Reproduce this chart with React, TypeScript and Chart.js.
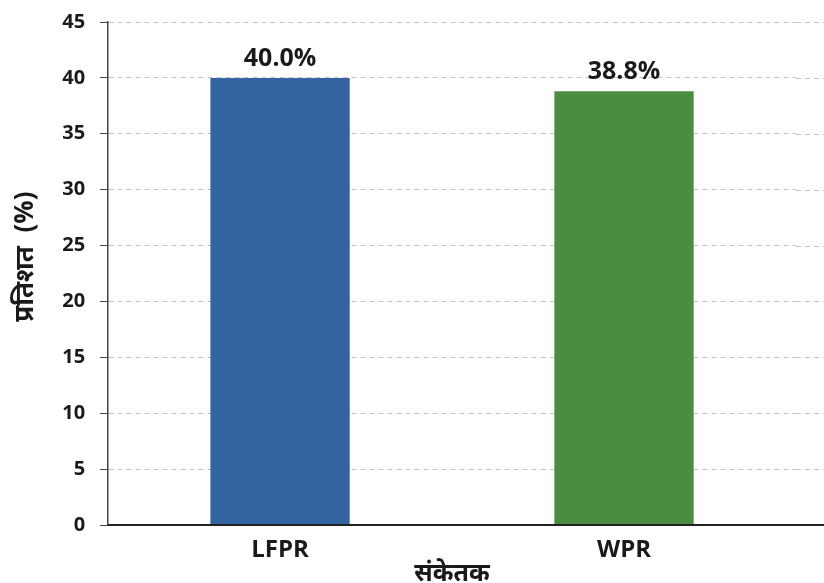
import React, { useEffect, useRef } from "react";
import { Chart, registerables } from "chart.js";

Chart.register(...registerables);

const categories = ["LFPR", "WPR"];
const values = [40.0, 38.8];
const barColors = ["#3463a2", "#4a8c40"];
const valueLabels = ["40.0%", "38.8%"];
const yTitle = "\u00a0\u00a0\u00a0\u00a0\u00a0प्रतिशत  (%)";
const xTitle = "संकेतक";

const FONT = "'Open Sans', 'Noto Sans', 'Noto Sans Devanagari', sans-serif";
const TEXT = "#1a1a1a";
const GRID = "#c4c4c4";

// Draws the value text above each bar and carries the y gridlines and
// the baseline on to the right edge of the canvas.
const extrasPlugin = {
  id: "extras",
  beforeDatasetsDraw(chart: any) {
    const { ctx, chartArea, scales, width } = chart;
    const y = scales.y;
    ctx.save();
    ctx.strokeStyle = GRID;
    ctx.lineWidth = 1;
    ctx.setLineDash([5, 4]);
    y.ticks.forEach((t: any) => {
      if (t.value === 0) return;
      const py = Math.round(y.getPixelForValue(t.value)) + 0.5;
      ctx.beginPath();
      ctx.moveTo(chartArea.right, py);
      ctx.lineTo(width, py);
      ctx.stroke();
    });
    ctx.restore();
  },
  afterDatasetsDraw(chart: any) {
    const { ctx, chartArea, scales, width } = chart;
    const y0 = scales.y.getPixelForValue(0);
    ctx.save();
    ctx.strokeStyle = "#222";
    ctx.lineWidth = 2;
    ctx.beginPath();
    ctx.moveTo(chartArea.left, y0);
    ctx.lineTo(width, y0);
    ctx.stroke();

    const meta = chart.getDatasetMeta(0);
    ctx.fillStyle = TEXT;
    ctx.font = `bold 25px ${FONT}`;
    ctx.textAlign = "center";
    ctx.textBaseline = "alphabetic";
    meta.data.forEach((bar: any, i: number) => {
      ctx.fillText(valueLabels[i], bar.x, bar.y - 12);
    });
    ctx.restore();
  },
};

export default function App() {
  const canvasRef = useRef<HTMLCanvasElement | null>(null);

  useEffect(() => {
    document.body.style.margin = "0";
    const canvas = canvasRef.current;
    if (!canvas) return;
    const chart = new Chart(canvas, {
      type: "bar",
      data: {
        labels: categories,
        datasets: [
          {
            data: values,
            backgroundColor: barColors,
            borderWidth: 0,
            barPercentage: 0.81,
            categoryPercentage: 0.5,
          },
        ],
      },
      options: {
        animation: false,
        responsive: false,
        maintainAspectRatio: false,
        layout: { padding: { top: 0, right: 28, left: 0, bottom: 0 } },
        plugins: {
          legend: { display: false },
          tooltip: { enabled: false },
        },
        scales: {
          x: {
            grid: { display: false },
            border: { display: true, color: "#222", width: 2 },
            ticks: {
              color: TEXT,
              padding: 5,
              font: { family: FONT, size: 24, weight: "bold", lineHeight: 1 },
            },
            title: {
              display: true,
              text: xTitle,
              color: TEXT,
              padding: { top: -6, bottom: -3 },
              font: { family: FONT, size: 25, weight: "bold", lineHeight: 1 },
            },
          },
          y: {
            min: 0,
            max: 45,
            ticks: {
              stepSize: 5,
              color: TEXT,
              padding: 15,
              font: { family: FONT, size: 20, weight: "bold", lineHeight: 0.7 },
            },
            grid: {
              color: GRID,
              tickColor: "#444",
              tickLength: 8,
              tickBorderDash: [8, 0],
            },
            border: { display: true, color: "#444", width: 1.5, dash: [5, 4] },
            title: {
              display: true,
              text: yTitle,
              color: TEXT,
              padding: { top: 10, bottom: 6 },
              font: { family: FONT, size: 26, weight: "bold", lineHeight: 1.2 },
            },
          },
        },
      },
      plugins: [extrasPlugin],
    });
    return () => chart.destroy();
  }, []);

  return (
    <div style={{ width: 824, height: 583, background: "#fff" }}>
      <canvas ref={canvasRef} width={824} height={583} />
    </div>
  );
}
